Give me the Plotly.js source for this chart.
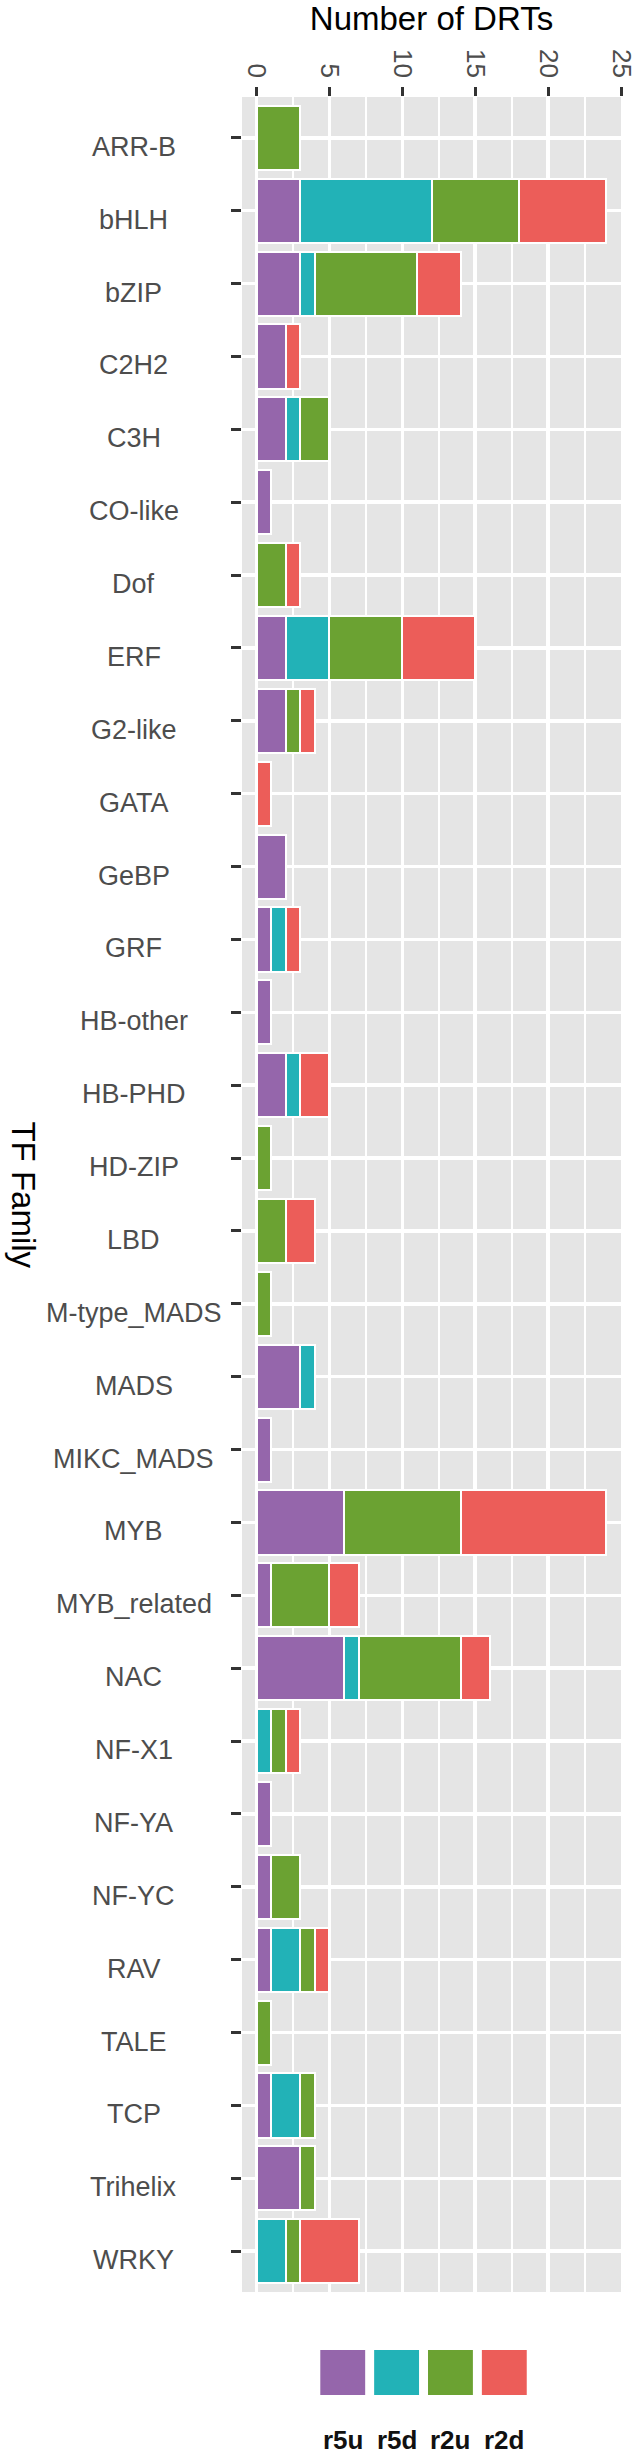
<!DOCTYPE html>
<html>
<head>
<meta charset="utf-8">
<script src="https://cdn.plot.ly/plotly-3.0.1.min.js"></script>
<style>
  html, body { margin: 0; padding: 0; background: #ffffff; }
  #chart { width: 644px; height: 2459px; }
</style>
</head>
<body>
<div id="chart"></div>
<script>
// TF families, top to bottom
let families = ['ARR-B', 'bHLH', 'bZIP', 'C2H2', 'C3H', 'CO-like', 'Dof', 'ERF', 'G2-like', 'GATA',
    'GeBP', 'GRF', 'HB-other', 'HB-PHD', 'HD-ZIP', 'LBD', 'M-type_MADS', 'MADS', 'MIKC_MADS', 'MYB',
    'MYB_related', 'NAC', 'NF-X1', 'NF-YA', 'NF-YC', 'RAV', 'TALE', 'TCP', 'Trihelix', 'WRKY'];

// number of DRTs per group
let r5u = [0, 3, 3, 2, 2, 1, 0, 2, 2, 0, 2, 1, 1, 2, 0, 0, 0, 3, 1, 6, 1, 6, 0, 1, 1, 1, 0, 1, 3, 0];
let r5d = [0, 9, 1, 0, 1, 0, 0, 3, 0, 0, 0, 1, 0, 1, 0, 0, 0, 1, 0, 0, 0, 1, 1, 0, 0, 2, 0, 2, 0, 2];
let r2u = [3, 6, 7, 0, 2, 0, 2, 5, 1, 0, 0, 0, 0, 0, 1, 2, 1, 0, 0, 8, 4, 7, 1, 0, 2, 1, 1, 1, 1, 1];
let r2d = [0, 6, 3, 1, 0, 0, 1, 5, 1, 1, 0, 1, 0, 2, 0, 2, 0, 0, 0, 10, 2, 2, 1, 0, 0, 1, 0, 0, 0, 4];

let groupNames = ['r5u', 'r5d', 'r2u', 'r2d'];
let groupValues = [r5u, r5d, r2u, r2d];
let groupColors = ['#9566ab', '#22b2b7', '#6ba232', '#ec5d59'];

let xTicks = [0, 5, 10, 15, 20, 25];

// plot area in pixels (used to place the custom legend and labels)
let W = 644, H = 2459;
let mL = 241.5, mR = 22.5, mT = 97, mB = 167;
let plotW = W - mL - mR, plotH = H - mT - mB;
function px2x(px) { return (px - mL) / plotW; }
function py2y(py) { return (H - mB - py) / plotH; }

let data = [];
for (let i = 0; i < groupNames.length; ++i) {
    data.push({
        type: 'bar',
        orientation: 'h',
        name: groupNames[i],
        y: families,
        x: groupValues[i].map(v => v === 0 ? null : v),
        marker: { color: groupColors[i], line: { color: 'white', width: 2 } },
        hoverinfo: 'skip',
    });
}

let annotations = [];
// family labels, centred like ggplot
for (let i = 0; i < families.length; ++i) {
    annotations.push({
        x: px2x(133),
        y: families[i],
        xref: 'paper',
        yref: 'y',
        text: families[i],
        showarrow: false,
        xanchor: 'center',
        yanchor: 'middle',
        yshift: -9,
        font: { family: 'Arial, "Liberation Sans", sans-serif', size: 27, color: '#4d4d4d' },
    });
}
// y axis title, reading top to bottom
annotations.push({
    x: px2x(22),
    y: 0.5,
    xref: 'paper',
    yref: 'paper',
    text: 'TF Family',
    textangle: 90,
    showarrow: false,
    xanchor: 'center',
    yanchor: 'middle',
    font: { family: 'Arial, "Liberation Sans", sans-serif', size: 33, color: '#000000' },
});

// legend: squares with bold labels below
let shapes = [];
let legLeft = 320, legStep = 54, legSize = 45, legTop = 2350;
for (let i = 0; i < groupNames.length; ++i) {
    let x0 = legLeft + i * legStep;
    shapes.push({
        type: 'rect',
        xref: 'paper',
        yref: 'paper',
        x0: px2x(x0),
        x1: px2x(x0 + legSize),
        y0: py2y(legTop + legSize),
        y1: py2y(legTop),
        fillcolor: groupColors[i],
        line: { width: 0 },
    });
    annotations.push({
        x: px2x(x0 + legSize / 2),
        y: py2y(2440),
        xref: 'paper',
        yref: 'paper',
        text: '<b>' + groupNames[i] + '</b>',
        showarrow: false,
        xanchor: 'center',
        yanchor: 'middle',
        font: { family: 'Arial, "Liberation Sans", sans-serif', size: 26, color: '#111111' },
    });
}

let layout = {
    width: W,
    height: H,
    margin: { l: mL, r: mR, t: mT, b: mB, pad: 0 },
    barmode: 'stack',
    bargap: 0.12,
    paper_bgcolor: '#ffffff',
    plot_bgcolor: '#e5e5e5',
    showlegend: false,
    xaxis: {
        side: 'top',
        range: [-1.0, 25.0],
        tickvals: xTicks,
        ticktext: xTicks.map(String),
        tickangle: 90,
        ticks: 'outside',
        ticklen: 9,
        tickwidth: 3,
        tickcolor: '#333333',
        showgrid: true,
        gridcolor: '#ffffff',
        gridwidth: 3.5,
        zeroline: false,
        showline: false,
        minor: { tick0: 2.5, dtick: 5, showgrid: true, gridcolor: '#ffffff', gridwidth: 2 },
        tickfont: { family: 'Arial, "Liberation Sans", sans-serif', size: 26, color: '#4d4d4d' },
        title: {
            text: 'Number of DRTs',
            standoff: 10,
            font: { family: 'Arial, "Liberation Sans", sans-serif', size: 33, color: '#000000' },
        },
        fixedrange: true,
    },
    yaxis: {
        type: 'category',
        categoryorder: 'array',
        categoryarray: families,
        range: [families.length - 1 + 0.56, -0.56],
        showticklabels: false,
        ticks: 'outside',
        ticklen: 10,
        tickwidth: 3,
        tickcolor: '#333333',
        showgrid: true,
        gridcolor: '#ffffff',
        gridwidth: 3.5,
        zeroline: false,
        showline: false,
        fixedrange: true,
    },
    annotations: annotations,
    shapes: shapes,
};

let config = { staticPlot: true, displayModeBar: false, responsive: false };

Plotly.newPlot('chart', data, layout, config);
</script>
</body>
</html>
